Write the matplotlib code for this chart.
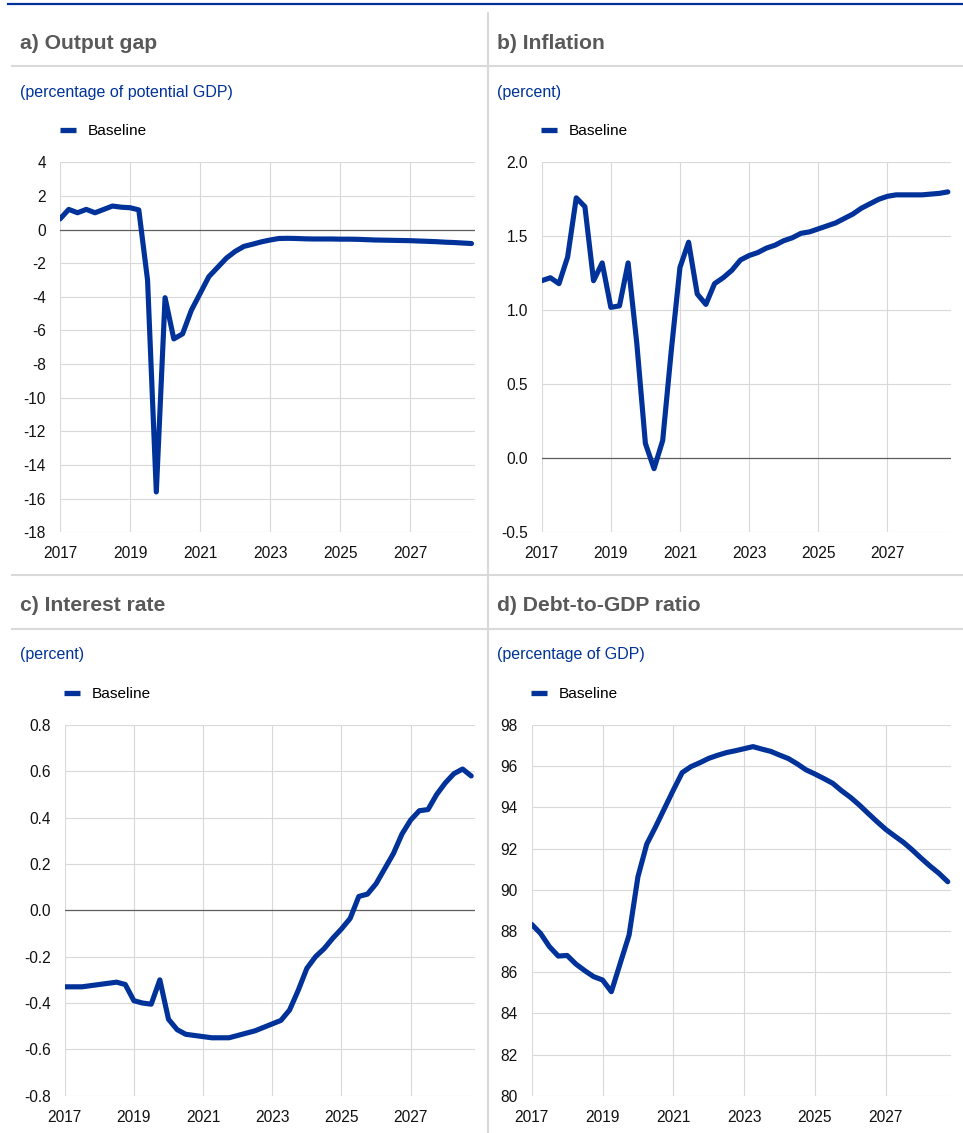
import numpy as np
import matplotlib
matplotlib.use('Agg')
import matplotlib.pyplot as plt
from matplotlib.lines import Line2D

plt.rcParams['font.family'] = ['Liberation Sans', 'DejaVu Sans']
plt.rcParams['axes.unicode_minus'] = False

# quarterly data, 2017Q1 .. 2028Q4
QUARTERS = [f"{y}Q{q}" for y in range(2017, 2029) for q in range(1, 5)]
YEAR_TICKS = ['2017', '2019', '2021', '2023', '2025', '2027']

output_gap = [0.63, 1.2, 1.0, 1.2, 1.0, 1.2, 1.4, 1.33, 1.3, 1.17,
              -3.0, -15.6, -4.05, -6.5, -6.2, -4.8, -3.8, -2.8, -2.25, -1.7,
              -1.3, -1.0, -0.87, -0.73, -0.62, -0.53, -0.52, -0.53, -0.55, -0.56,
              -0.56, -0.56, -0.57, -0.57, -0.58, -0.6, -0.62, -0.63, -0.64, -0.65,
              -0.66, -0.68, -0.7, -0.72, -0.75, -0.77, -0.8, -0.83]

inflation = [1.2, 1.22, 1.18, 1.36, 1.76, 1.70, 1.2, 1.32, 1.02, 1.03,
             1.32, 0.78, 0.1, -0.07, 0.12, 0.73, 1.29, 1.46, 1.11, 1.04,
             1.18, 1.22, 1.27, 1.34, 1.37, 1.39, 1.42, 1.44, 1.47, 1.49,
             1.52, 1.53, 1.55, 1.57, 1.59, 1.62, 1.65, 1.69, 1.72, 1.75,
             1.77, 1.78, 1.78, 1.78, 1.78, 1.785, 1.79, 1.80]

interest_rate = [-0.33, -0.33, -0.33, -0.325, -0.32, -0.315, -0.31, -0.32, -0.39, -0.40,
                 -0.405, -0.30, -0.47, -0.515, -0.535, -0.54, -0.545, -0.55, -0.55, -0.55,
                 -0.54, -0.53, -0.52, -0.505, -0.49, -0.475, -0.43, -0.345, -0.25, -0.2,
                 -0.165, -0.12, -0.08, -0.035, 0.06, 0.07, 0.115, 0.18, 0.245, 0.33,
                 0.39, 0.43, 0.435, 0.5, 0.55, 0.59, 0.61, 0.58]

debt_ratio = [88.32, 87.88, 87.24, 86.78, 86.81, 86.39, 86.07, 85.78, 85.62, 85.05,
              86.43, 87.8, 90.63, 92.22, 93.06, 93.95, 94.84, 95.69, 95.98, 96.17,
              96.38, 96.53, 96.66, 96.75, 96.85, 96.95, 96.83, 96.72, 96.54, 96.37,
              96.11, 95.82, 95.62, 95.4, 95.17, 94.81, 94.49, 94.12, 93.71, 93.31,
              92.93, 92.61, 92.3, 91.93, 91.53, 91.15, 90.8, 90.39]

TITLES = ['a) Output gap', 'b) Inflation', 'c) Interest rate', 'd) Debt-to-GDP ratio']
UNITS = ['(percentage of potential GDP)', '(percent)', '(percent)', '(percentage of GDP)']
SERIES = [output_gap, inflation, interest_rate, debt_ratio]
YTICKS = [np.arange(-18, 5, 2), np.round(np.arange(-0.5, 2.01, 0.5), 2),
          np.round(np.arange(-0.8, 0.81, 0.2), 2), np.arange(80, 99, 2)]
YFMT = ['{:.0f}', '{:.1f}', '{:.1f}', '{:.0f}']

BLUE = '#003299'
GREY_LINE = '#d9d9d9'
TITLE_COL = '#595959'

W, H = 963, 1133
fig = plt.figure(figsize=(W / 100, H / 100), dpi=100)


def fx(px):
    return px / W


def fy(py):
    return 1 - py / H


# panel geometry in pixels: axes box (left, right, top, bottom), header x, header baselines, legend pos
PANELS = [
    dict(box=(60, 475, 162.3, 532.3), hx=20, tb=49.3, sb=96.5, ly=131.3, lx=60),
    dict(box=(541.7, 951.3, 162.3, 532.3), hx=497, tb=49.0, sb=96.5, ly=131.3, lx=541),
    dict(box=(64.7, 474.7, 725, 1095.7), hx=20, tb=611, sb=658.5, ly=694, lx=64),
    dict(box=(531.7, 951.3, 725, 1095.7), hx=497, tb=611, sb=658.5, ly=694, lx=531),
]

x = np.arange(len(QUARTERS))

for i, p in enumerate(PANELS):
    x0, x1, yt, yb = p['box']
    ax = fig.add_axes([fx(x0), fy(yb), (x1 - x0) / W, (yb - yt) / H])
    ax.plot(x, SERIES[i], color=BLUE, lw=3.7, solid_joinstyle='round',
            solid_capstyle='round', zorder=3)
    yt_vals = YTICKS[i]
    ax.set_ylim(yt_vals[0], yt_vals[-1])
    ax.set_yticks(yt_vals)
    ax.set_yticklabels([YFMT[i].format(v + 0.0) if abs(v) > 1e-9 else YFMT[i].format(0.0)
                        for v in yt_vals])
    ax.set_xlim(0, 47.4)
    ax.set_xticks(np.arange(0, 48, 8))
    ax.set_xticklabels(YEAR_TICKS)
    if yt_vals[0] < 0 < yt_vals[-1]:
        ax.axhline(0, color='#5f5f5f', lw=0.9, zorder=2)
    for s in ax.spines.values():
        s.set_visible(False)
    ax.grid(True, color=GREY_LINE, lw=0.8)
    ax.set_axisbelow(True)
    ax.tick_params(length=0, pad=10, labelsize=11.2, colors='#111111')

    # header texts
    fig.text(fx(p['hx']), fy(p['tb']), TITLES[i], fontsize=15.2, fontweight='bold',
             color=TITLE_COL, va='baseline', ha='left')
    fig.text(fx(p['hx']), fy(p['sb']), UNITS[i], fontsize=11.5, color=BLUE,
             va='baseline', ha='left')
    proxy = Line2D([], [], color=BLUE, lw=3.8, solid_capstyle='butt')
    ax.legend(handles=[proxy], labels=['Baseline'], loc='center left',
              bbox_to_anchor=(fx(p['lx']), fy(p['ly'])), bbox_transform=fig.transFigure,
              frameon=False, borderpad=0, borderaxespad=0, handlelength=1.05,
              handletextpad=0.72, fontsize=11.1)

# frame / separators
fig.add_artist(Line2D([fx(8), fx(963)], [fy(4), fy(4)], transform=fig.transFigure,
                      color=BLUE, lw=1.6))
for yy in (66, 575, 629):
    fig.add_artist(Line2D([fx(12), fx(963)], [fy(yy), fy(yy)], transform=fig.transFigure,
                          color=GREY_LINE, lw=1.5))
fig.add_artist(Line2D([fx(488), fx(488)], [fy(13), fy(1133)], transform=fig.transFigure,
                      color=GREY_LINE, lw=1.5))

fig.savefig('out.png', dpi=100)
